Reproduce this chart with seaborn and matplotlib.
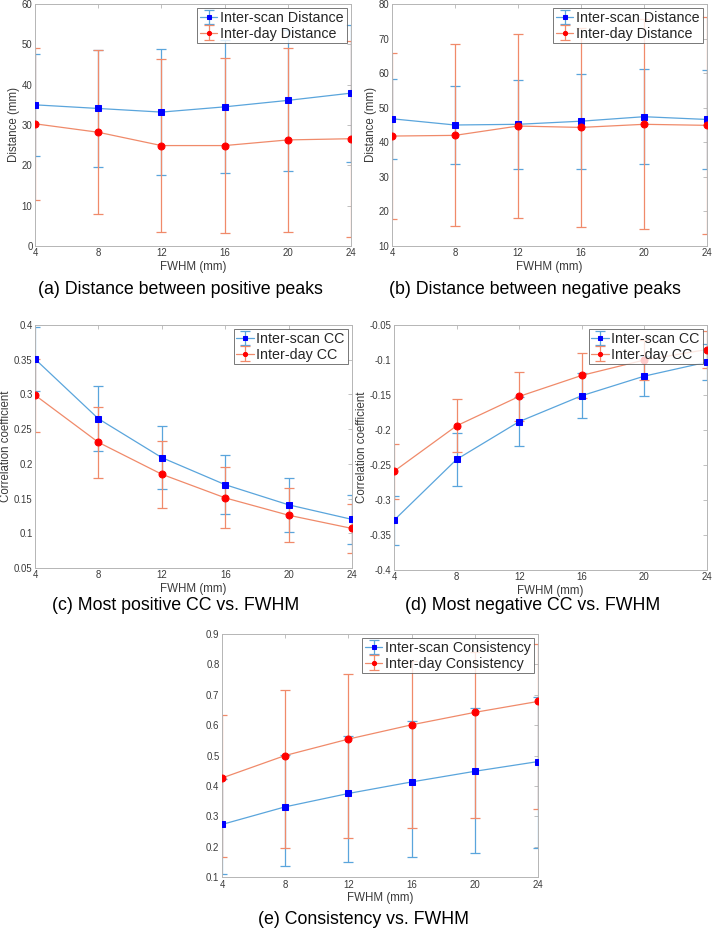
# Inter-scan vs inter-day reproducibility across smoothing kernels

import numpy as np
import pandas as pd
import matplotlib
matplotlib.use('Agg')
from matplotlib import pyplot as plt
from matplotlib.container import ErrorbarContainer
import seaborn as sns

sns.set_style('white')
plt.rcParams['font.family'] = ['Liberation Sans', 'DejaVu Sans']

fwhm = [4, 8, 12, 16, 20, 24]

# (a) distance between positive peaks
scan_pos_dist = [35.0, 34.1, 33.2, 34.5, 36.1, 37.9]
scan_pos_dist_err = [12.6, 14.4, 15.6, 16.5, 17.4, 17.0]
day_pos_dist = [30.3, 28.2, 24.9, 24.9, 26.3, 26.6]
day_pos_dist_err = [18.8, 20.3, 21.4, 21.6, 22.9, 24.3]

# (b) distance between negative peaks
scan_neg_dist = [46.8, 45.0, 45.2, 46.1, 47.4, 46.6]
scan_neg_dist_err = [11.6, 11.4, 12.8, 13.7, 13.8, 14.2]
day_neg_dist = [41.8, 42.0, 44.7, 44.3, 45.2, 44.9]
day_neg_dist_err = [24.1, 26.3, 26.5, 28.8, 30.4, 31.4]

# (c) most positive CC
scan_pos_cc = [0.351, 0.265, 0.209, 0.170, 0.141, 0.120]
scan_pos_cc_err = [0.0455, 0.047, 0.0455, 0.0425, 0.039, 0.035]
day_pos_cc = [0.299, 0.231, 0.185, 0.151, 0.126, 0.107]
day_pos_cc_err = [0.0525, 0.0515, 0.048, 0.044, 0.039, 0.035]

# (d) most negative CC
scan_neg_cc = [-0.329, -0.242, -0.188, -0.151, -0.123, -0.103]
scan_neg_cc_err = [0.035, 0.038, 0.035, 0.032, 0.029, 0.026]
day_neg_cc = [-0.259, -0.194, -0.152, -0.122, -0.100, -0.085]
day_neg_cc_err = [0.039, 0.038, 0.035, 0.032, 0.029, 0.026]

# (e) consistency (asymmetric bars)
scan_cons = [0.273, 0.331, 0.375, 0.413, 0.448, 0.480]
scan_cons_lo = [0.163, 0.196, 0.225, 0.247, 0.269, 0.286]
scan_cons_hi = [0.150, 0.171, 0.188, 0.199, 0.208, 0.211]
day_cons = [0.426, 0.500, 0.554, 0.601, 0.642, 0.678]
day_cons_lo = [0.261, 0.303, 0.326, 0.341, 0.349, 0.354]
day_cons_hi = [0.207, 0.217, 0.213, 0.210, 0.200, 0.189]

blue_line, blue_mark = '#5aa5dc', '#0000ff'
red_line, red_mark = '#f08a6a', '#ff0000'
box_col = '#b5b5b5'
tick_col = '#3a3a3a'


def panel(ax, scan, scan_lo, scan_hi, day, day_lo, day_hi, labels, ylim, yticks, ylabel):
    df = pd.DataFrame({
        'FWHM': fwhm + fwhm,
        'value': scan + day,
        'lo': scan_lo + day_lo,
        'hi': scan_hi + day_hi,
        'series': [labels[0]] * len(fwhm) + [labels[1]] * len(fwhm),
    })
    styles = [(labels[0], blue_line, blue_mark, 's', 4.2),
              (labels[1], red_line, red_mark, 'o', 5.0)]
    bars = []
    for name, lc, mc, mk, ms in styles:
        sub = df[df['series'] == name]
        bars.append(ax.errorbar(sub['FWHM'], sub['value'], yerr=[sub['lo'], sub['hi']],
                                fmt='none', ecolor=lc, elinewidth=0.9, capsize=3.6,
                                capthick=0.9, zorder=2))
    handles = []
    for (name, lc, mc, mk, ms), eb in zip(styles, bars):
        sub = df[df['series'] == name]
        sns.lineplot(data=sub, x='FWHM', y='value', color=lc, lw=0.9, marker=mk,
                     markersize=ms, markerfacecolor=mc, markeredgecolor=mc,
                     legend=False, ax=ax, zorder=3)
        handles.append(ErrorbarContainer((ax.lines[-1], eb.lines[1], eb.lines[2]),
                                         has_xerr=False, has_yerr=True))
    ax.set_xlim(4, 24)
    ax.set_xticks(fwhm)
    ax.set_ylim(*ylim)
    ax.set_yticks(yticks)
    ax.set_yticklabels([('%g' % t) for t in yticks])
    ax.set_xlabel('FWHM (mm)', fontsize=8.3, color=tick_col, labelpad=1.5)
    ax.set_ylabel(ylabel, fontsize=8.3, color=tick_col, labelpad=1.2)
    ax.tick_params(direction='in', length=3, width=0.6, color=box_col,
                   labelsize=6.9, labelcolor=tick_col, top=True, right=True, pad=1.8)
    for sp in ax.spines.values():
        sp.set_color(box_col)
        sp.set_linewidth(0.7)
    leg = ax.legend(handles, labels, loc='upper right', fontsize=10.3, frameon=True,
                    fancybox=False, borderaxespad=0.3, borderpad=0.2, handlelength=1.2,
                    handletextpad=0.2, labelspacing=0.1, markerscale=0.6)
    leg.get_frame().set_edgecolor('#555555')
    leg.get_frame().set_linewidth(0.7)


fig = plt.figure(figsize=(7.13, 9.31), dpi=100)
W, H = 713.0, 931.0


def add_axes(l, r, t, b):
    return fig.add_axes([l / W, 1 - b / H, (r - l) / W, (b - t) / H])


ax_a = add_axes(35, 351, 4, 246)
ax_b = add_axes(392, 707, 4, 246)
ax_c = add_axes(35, 352, 325, 568)
ax_d = add_axes(394, 707, 325, 570)
ax_e = add_axes(222, 538, 634, 877)

panel(ax_a, scan_pos_dist, scan_pos_dist_err, scan_pos_dist_err,
      day_pos_dist, day_pos_dist_err, day_pos_dist_err,
      ['Inter-scan Distance', 'Inter-day Distance'], (0, 60),
      [0, 10, 20, 30, 40, 50, 60], 'Distance (mm)')
panel(ax_b, scan_neg_dist, scan_neg_dist_err, scan_neg_dist_err,
      day_neg_dist, day_neg_dist_err, day_neg_dist_err,
      ['Inter-scan Distance', 'Inter-day Distance'], (10, 80),
      [10, 20, 30, 40, 50, 60, 70, 80], 'Distance (mm)')
panel(ax_c, scan_pos_cc, scan_pos_cc_err, scan_pos_cc_err,
      day_pos_cc, day_pos_cc_err, day_pos_cc_err,
      ['Inter-scan CC', 'Inter-day CC'], (0.05, 0.4),
      [0.05, 0.1, 0.15, 0.2, 0.25, 0.3, 0.35, 0.4], 'Correlation coefficient')
panel(ax_d, scan_neg_cc, scan_neg_cc_err, scan_neg_cc_err,
      day_neg_cc, day_neg_cc_err, day_neg_cc_err,
      ['Inter-scan CC', 'Inter-day CC'], (-0.4, -0.05),
      [-0.4, -0.35, -0.3, -0.25, -0.2, -0.15, -0.1, -0.05], 'Correlation coefficient')
panel(ax_e, scan_cons, scan_cons_lo, scan_cons_hi,
      day_cons, day_cons_lo, day_cons_hi,
      ['Inter-scan Consistency', 'Inter-day Consistency'], (0.1, 0.9),
      [0.1, 0.2, 0.3, 0.4, 0.5, 0.6, 0.7, 0.8, 0.9], '')

captions = [('(a) Distance between positive peaks', 180, 290),
            ('(b) Distance between negative peaks', 535, 290),
            ('(c) Most positive CC vs. FWHM', 176, 606),
            ('(d) Most negative CC vs. FWHM', 533, 606),
            ('(e) Consistency vs. FWHM', 364, 919)]
for txt, cx, cy in captions:
    fig.text(cx / W, 1 - cy / H, txt, ha='center', va='center', fontsize=12.8, color='black')

fig.savefig('out.png', dpi=100)
